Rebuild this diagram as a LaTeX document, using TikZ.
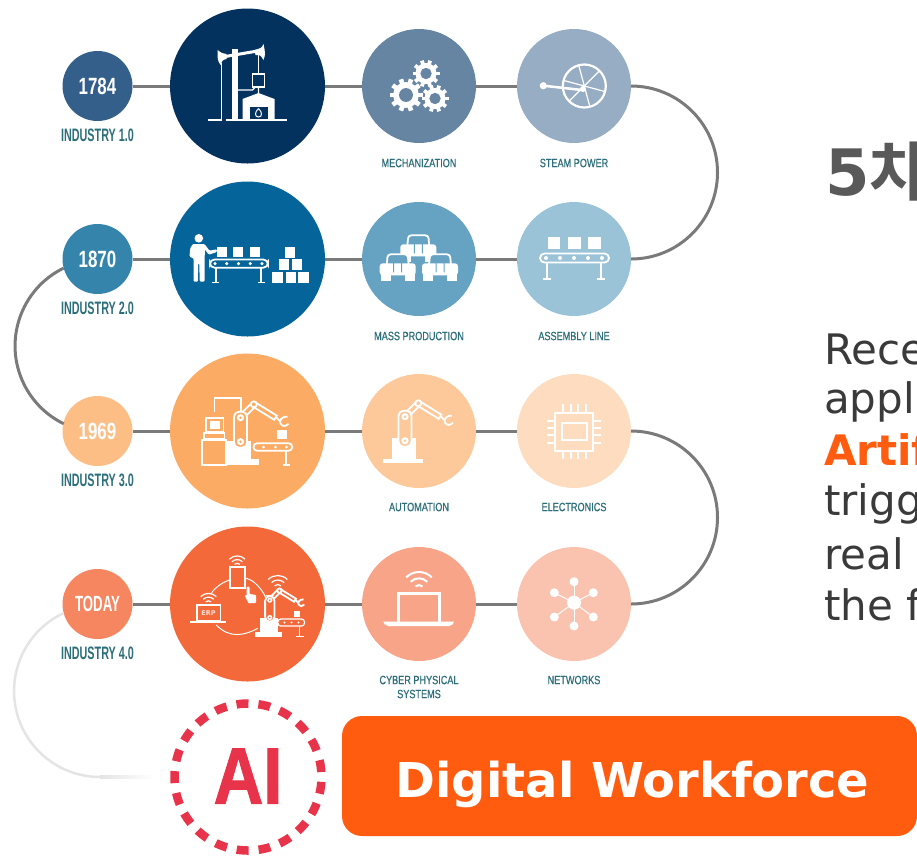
\documentclass[tikz,border=0pt]{standalone}
\usepackage{fontspec}
\setmainfont{DejaVu Sans}
\newfontfamily\koreanfont[BoldFont={Noto Sans CJK KR Bold}]{Noto Sans CJK KR}
\newfontfamily\yearfont[FakeStretch=0.72]{Liberation Sans Bold}
\newfontfamily\indfont[FakeStretch=0.6]{Liberation Sans Bold}
\newfontfamily\labelfont[FakeStretch=0.76,FakeBold=0.6]{Liberation Sans}
\newfontfamily\aifont[FakeStretch=0.86,FakeBold=1.2]{Liberation Sans Bold}

\definecolor{year1}{HTML}{335F8A}
\definecolor{era1}{HTML}{03325F}
\definecolor{mid1}{HTML}{6685A3}
\definecolor{end1}{HTML}{97ADC4}
\definecolor{year2}{HTML}{3584AC}
\definecolor{era2}{HTML}{05659A}
\definecolor{mid2}{HTML}{66A3C3}
\definecolor{end2}{HTML}{9BC3D8}
\definecolor{year3}{HTML}{FDBE85}
\definecolor{era3}{HTML}{FBAB64}
\definecolor{mid3}{HTML}{FDC99B}
\definecolor{end3}{HTML}{FDDCBF}
\definecolor{year4}{HTML}{F6865F}
\definecolor{era4}{HTML}{F4693A}
\definecolor{mid4}{HTML}{F8A489}
\definecolor{end4}{HTML}{FAC3B0}
\definecolor{linkgray}{HTML}{7A7A7A}
\definecolor{fadegray}{HTML}{E4E4E4}
\definecolor{tealtext}{HTML}{2C6E7A}
\definecolor{airred}{HTML}{E8344A}
\definecolor{boxorange}{HTML}{FF5C0F}
\definecolor{bodygray}{HTML}{3A3A3A}
\definecolor{headgray}{HTML}{595959}

\tikzset{
  yeardisc/.style={circle,fill=#1,inner sep=0pt,outer sep=0pt,minimum size=70pt,text=white,
    font=\yearfont\fontsize{23.5}{24}\selectfont},
  eradisc/.style={circle,fill=#1,inner sep=0pt,outer sep=0pt,minimum size=155pt},
  techdisc/.style={circle,fill=#1,inner sep=0pt,outer sep=0pt,minimum size=114pt},
  indtext/.style={text=tealtext,inner sep=0pt,font=\indfont\fontsize{18}{18}\selectfont},
  techtext/.style={text=tealtext,inner sep=0pt,align=center,font=\labelfont\fontsize{12}{14}\selectfont},
  bodytext/.style={anchor=base west,inner sep=0pt,text=bodygray,font=\fontsize{42}{42}\selectfont},
  link/.style={draw=linkgray,line width=3pt},
  icon/.style={draw=white,line width=1.8pt}
}

% #1 x, #2 y, #3 radius, #4 hole colour
\newcommand{\gearicon}[4]{
  \begin{scope}[shift={(#1,#2)}]
    \fill[white] (0,0) circle (#3*0.78);
    \foreach \a in {0,36,...,324}
      \fill[white,rotate=\a] (#3*0.6,-#3*0.14) rectangle (#3,#3*0.14);
    \fill[#4] (0,0) circle (#3*0.42);
  \end{scope}
}
% #1 x, #2 y, #3 background colour
\newcommand{\caricon}[3]{
  \begin{scope}[shift={(#1,#2)}]
    \draw[icon,fill=#3,rounded corners=3pt] (-11,-2) -- (-10,-13) -- (10,-13) -- (11,-2);
    \fill[white,rounded corners=3pt] (-18,-4) rectangle (18,8);
    \fill[white] (-17,7) rectangle (-7,14);
    \fill[white] (7,7) rectangle (17,14);
    \draw[#3,line width=1pt,rounded corners=2pt] (-4,5) -- (-4,-8) -- (4,-8) -- (4,5);
  \end{scope}
}
% belt with legs, #1 background colour
\newcommand{\belticon}[1]{
  \draw[icon,rounded corners=4.5pt] (-34,-5.5) rectangle (35,3.5);
  \foreach \x in {-28,-14,0,14,28}
    \fill[white] (\x,-1) circle (2);
  \draw[icon] (-27,3.5) -- (-27,20) (-31,20) -- (-23,20);
  \draw[icon] (27,3.5) -- (27,20) (23,20) -- (31,20);
}
% arm around its lower joint, #1 background colour
\newcommand{\armicon}[1]{
  \draw[icon,fill=#1] (-1.8,-25.8) -- (11.2,-38.8) -- (14.8,-35.2) -- (1.8,-22.2) -- cycle;
  \draw[icon,fill=#1] (12,-35.3) -- (33.7,-21.9) -- (36.3,-26.1) -- (14.6,-39.5) -- cycle;
  \draw[icon,fill=#1] (13.3,-37.4) circle (3);
  \draw[icon,fill=#1,rounded corners=5pt] (-6.5,-30) rectangle (6.5,6);
  \fill[white] (0,-24) circle (3.6);
  \fill[#1] (0,-24) circle (1.3);
  \fill[white] (0,0) circle (3.6);
  \fill[#1] (0,0) circle (1.3);
  \draw[icon] (36,-24) -- (40,-20);
  \draw[icon] (47,-25) .. controls (42,-26) and (38,-21) .. (40,-18) .. controls (42,-15) and (45,-15) .. (48,-18);
}
% #1 unit radius
\newcommand{\wifiicon}[1]{
  \foreach \k in {1,2,3}
    \draw[icon,line width=1.2pt] (-135:\k*#1) arc[start angle=-135,end angle=-45,radius=\k*#1];
}

\begin{document}
\begin{tikzpicture}[x=1pt,y=-1pt]
\useasboundingbox (0,0) rectangle (917,855);
\clip (0,0) rectangle (917,855);

\foreach \r/\y/\yr in {1/86/1784, 2/259/1870, 3/431/1969, 4/604/{\indfont\fontsize{22}{22}\selectfont TODAY}}
	{
	\node[yeardisc=year\r] (year\r) at (97.5,\y) {\yr};
	\node[eradisc=era\r] (era\r) at (247.5,\y) {};
	\node[techdisc=mid\r] (mid\r) at (419,\y) {};
	\node[techdisc=end\r] (end\r) at (574,\y) {};
	\draw[link] (year\r) -- (era\r) -- (mid\r) -- (end\r);
	}

\node[indtext] (ind1) at (97.5,135) {INDUSTRY 1.0};
\node[indtext] (ind2) at (97.5,308) {INDUSTRY 2.0};
\node[indtext] (ind3) at (97.5,480) {INDUSTRY 3.0};
\node[indtext] (ind4) at (97.5,653) {INDUSTRY 4.0};
\node[techtext] (midlab1) at (419,163) {MECHANIZATION};
\node[techtext] (endlab1) at (574,163) {STEAM POWER};
\node[techtext] (midlab2) at (419,336) {MASS PRODUCTION};
\node[techtext] (endlab2) at (574,336) {ASSEMBLY LINE};
\node[techtext] (midlab3) at (419,507) {AUTOMATION};
\node[techtext] (endlab3) at (574,507) {ELECTRONICS};
\node[techtext] (midlab4) at (419,687) {CYBER PHYSICAL\\SYSTEMS};
\node[techtext] (endlab4) at (574,680) {NETWORKS};

% curves between the rows
\draw[link] (end1.east) arc[start angle=-90,end angle=90,radius=86.5];
\draw[link] (end3.east) arc[start angle=-90,end angle=90,radius=86.5];
\draw[link] (year2.195) arc[start angle=-116,end angle=-244,radius=86.6];
\draw[draw=fadegray,line width=2.5pt] (year4.195) arc[start angle=-115,end angle=-270,radius=86]
	coordinate (fadestart);

\node[circle,draw=airred,line width=8.5pt,dash pattern=on 12pt off 10pt,dash phase=17pt,
	inner sep=0pt,outer sep=0pt,minimum size=147pt,text=airred,
	font=\aifont\fontsize{80}{80}\selectfont] (ai) at (248,777) {\raisebox{2pt}{AI}};
\coordinate (fadeend) at (155,777);
\shade[left color=fadegray,right color=white] ([yshift=1.25pt]fadestart) rectangle ([yshift=-1.25pt]fadeend);

\node[fill=boxorange,rounded corners=20pt,minimum width=575pt,minimum height=120pt,inner sep=0pt] (box) at (629.5,776) {};
\node[anchor=base,inner sep=0pt,text=white,font=\bfseries\fontsize{48}{48}\selectfont] (workforce) at (632.5,797) {Digital Workforce};

% right column, cut by the frame
\node[anchor=base west,inner sep=0pt,text=headgray,font=\bfseries\fontsize{64}{64}\selectfont] (head) at (825,195)
	{5{\koreanfont 차}};
\node[bodytext] (line1) at (824,364) {Rece};
\node[bodytext] (line2) at (824,413) {appl};
\node[bodytext,text=boxorange,font=\bfseries\fontsize{42}{42}\selectfont] (line3) at (824,465) {Artif};
\node[bodytext] (line4) at (824,515) {trigg};
\node[bodytext] (line5) at (824,569) {real};
\node[bodytext] (line6) at (824,620) {the f};

% pump and furnace
\begin{scope}[shift={(era1.center)}]
	\draw[white,line width=2.5pt] (-40,34) -- (-26,34) (-22,34) -- (39,34);
	\fill[white] (-16,-37) rectangle (-10,34);
	\draw[white,line width=3pt] (-25,-29) -- (10,-35);
	\fill[white] (-30,-36) .. controls (-26,-33) .. (-21,-32) -- (-21,-27) .. controls (-25,-26) .. (-27,-21) .. controls (-30,-26) .. (-30,-36);
	\fill[white] (16,-42) .. controls (14,-38) .. (7,-36) -- (8,-31) .. controls (13,-31) .. (16,-26) .. controls (18,-32) .. (16,-42);
	\draw[white,line width=1pt] (-26,-23) -- (-26,34);
	\draw[white,line width=1pt] (11,-33) -- (11,-12);
	\draw[white,line width=1.5pt] (5,-12) rectangle (17,1);
	\draw[white,line width=1.2pt] (-10,4) -- (5,4) -- (8,1) (11,1) -- (11,7);
	\fill[white] (-5,33) -- (-5,13) -- (11,7) -- (27,13) -- (27,33) -- cycle;
	\fill[era1] (2,33) -- (2,21) -- (20,21) -- (20,33) -- cycle;
	\draw[white,line width=1pt] (11,22.5) .. controls (15,26) and (15,31) .. (11,31) .. controls (7,31) and (7,26) .. (11,22.5);
\end{scope}
\gearicon{406}{95}{16.5}{mid1}
\gearicon{426}{73.5}{13.5}{mid1}
\gearicon{435}{98.5}{13.5}{mid1}
% steam wheel
\begin{scope}[shift={(end1.center)}]
	\draw[icon,line width=2.2pt] (10.3,0) circle (21.5);
	\foreach \a in {15,75,135,195,255,315}
		\draw[white,line width=1.2pt] (10.3,0) -- ++(\a:21);
	\fill[white] (-30.7,-0.3) circle (3.6);
	\draw[white,line width=2.5pt] (-30.7,-0.3) -- (8,4);
	\fill[white] (9,3) circle (3);
\end{scope}

% worker and boxes
\begin{scope}[shift={(era2.center)}]
	\fill[white] (-48.7,-20.7) circle (4.3);
	\fill[white,rounded corners=1pt] (-54.7,-15) -- (-43,-15) -- (-38,-8.3) -- (-30.7,-9.7) -- (-30.7,-7) -- (-38.7,-4.3) -- (-42.7,-9.7) -- (-43,22.7) -- (-47.7,22.7) -- (-48.3,4.3) -- (-49.3,4.3) -- (-49.7,22.7) -- (-54,22.7) -- (-54,-0.7) -- (-58,-2.3) -- (-57.3,-10.7) -- cycle;
	\foreach \x in {-31,-15,2}
		\fill[white] (\x,-12.3) rectangle ++(10.5,10);
	\begin{scope}[shift={(-9,5.5)},xscale=0.84,yscale=0.9]
		\belticon{era2}
	\end{scope}
	\foreach \x/\yy in {24.7/13.3,38/13.3,50.7/13.3,31.3/0.3,44.3/0.3,37.3/-11.7}
		\fill[white] (\x,\yy) rectangle ++(10.5,10.2);
\end{scope}
\caricon{418.3}{248.3}{mid2}
\caricon{397.7}{267.3}{mid2}
\caricon{440}{267.3}{mid2}
\begin{scope}[shift={(end2.center)}]
	\foreach \x in {-26.3,-5.7,14.3}
		\fill[white] (\x,-21.7) rectangle ++(12.3,12);
	\belticon{end2}
\end{scope}

% cell with robot
\begin{scope}[shift={(era3.center)}]
	\draw[icon] (-33,-19) -- (-33,-32.7) -- (-6.3,-32.7) -- (-6.3,-19);
	\draw[icon] (-41.3,-13.3) rectangle (-24,0.7);
	\fill[white] (-38,-10.3) rectangle (-27.5,-2);
	\draw[icon] (-43.7,2.3) rectangle (-23,8.3);
	\draw[icon] (-45.3,9) rectangle (-21.3,34);
	\fill[white] (-21.3,10) rectangle (3,34);
	\fill[white] (-21.3,28) rectangle (11.3,34);
	\begin{scope}[shift={(-7,10.7)}]
		\armicon{era3}
	\end{scope}
	\fill[white] (29.3,-1) rectangle (39.3,8.3);
	\draw[icon,rounded corners=3.5pt] (6,12.3) rectangle (44.7,19.7);
	\foreach \x in {16,28,39}
		\fill[white] (\x,16) circle (1.5);
	\draw[icon] (38.7,19.7) -- (38.7,34) (35,34) -- (42.5,34);
\end{scope}
\begin{scope}[shift={(mid3.center)}]
	\fill[white] (-27,7) rectangle (-3,30);
	\fill[white] (-35.7,27.5) rectangle (4,32);
	\begin{scope}[shift={(-14,9.7)}]
		\armicon{mid3}
	\end{scope}
\end{scope}
% chip
\begin{scope}[shift={(end3.center)}]
	\draw[icon] (-19,-18.3) rectangle (18.7,19.7);
	\draw[icon] (-12.3,-8.3) rectangle (12.7,9);
	\foreach \x in {-10.7,-3,4.3,11.7}
		\draw[icon] (\x,-26.7) -- (\x,-18.3) (\x,19.7) -- (\x,28);
	\foreach \yy in {-10.3,-2.7,4,11.7}
		\draw[icon] (-27.3,\yy) -- (-19,\yy) (18.7,\yy) -- (27,\yy);
\end{scope}

% connected factory
\begin{scope}[shift={(era4.center)}]
	\draw[white,line width=1pt] (-36.3,-10.7) .. controls (-31,-18) and (-24,-22) .. (-18,-24);
	\draw[white,line width=1pt] (-1.3,-25.7) .. controls (7,-24) and (15,-14) .. (18.7,-5.7);
	\draw[white,line width=1pt] (-31.3,21) .. controls (-24,28) and (-18,30.5) .. (-10,30.5) .. controls (-4,30.5) and (4,28) .. (10.3,24.3);
	\draw[icon,line width=2pt] (-18,-37.3) rectangle (-2.3,-16.3);
	\begin{scope}[shift={(-10.3,-37)}]
		\wifiicon{3.7}
	\end{scope}
	\fill[white,rounded corners=1pt] (-1,-17.3) -- (2,-17.3) -- (2,-10) -- (8.7,-9) -- (8.7,-1) -- (1,-0.7) -- (-3,-9) -- (-1,-8) -- cycle;
	\draw[icon,line width=1.5pt] (-50.3,1) rectangle (-27,17);
	\node[inner sep=0pt,text=white!80!era4,font=\bfseries\fontsize{6.5}{7}\selectfont] (erp) at (-39,9) {ERP};
	\fill[white] (-57.3,16.5) rectangle (-21.3,19);
	\begin{scope}[shift={(-39,0.5)}]
		\wifiicon{3.7}
	\end{scope}
	\begin{scope}[shift={(30.3,-15)}]
		\wifiicon{4.5}
	\end{scope}
	\fill[white] (12,14) rectangle (30.3,28.3);
	\fill[white] (7.7,28.3) rectangle (34.3,32.7);
	\begin{scope}[shift={(22.3,13.5)},scale=0.72]
		\armicon{era4}
	\end{scope}
	\fill[white] (46.3,7) rectangle (52,12.7);
	\draw[icon,line width=1.2pt,rounded corners=3pt] (30.3,15) rectangle (57,22);
	\foreach \x in {37,44,51}
		\fill[white] (\x,18.5) circle (1.2);
	\draw[icon,line width=1.2pt] (52,22) -- (52,32.5) (48,32.5) -- (56,32.5);
\end{scope}
% laptop
\begin{scope}[shift={(mid4.center)}]
	\draw[icon,line width=2.5pt] (-20.7,17.7) -- (-20.7,-10.7) -- (20.3,-10.7) -- (20.3,17.7);
	\fill[white] (-35.7,17.7) -- (35,17.7) .. controls (34,20) and (33,22) .. (30,22) -- (-30.7,22) .. controls (-33.7,22) and (-34.7,20) .. (-35.7,17.7) -- cycle;
	\begin{scope}[shift={(0,-14)}]
		\foreach \k in {5,11.7,18}
			\draw[icon,line width=2pt] (-135:\k) arc[start angle=-135,end angle=-45,radius=\k];
	\end{scope}
\end{scope}
% network
\begin{scope}[shift={(end4.center)}]
	\foreach \x/\yy in {0/-22.3,19.3/-11.3,19.3/13,0/22,-19.7/13,-19.7/-11.3}
		{
		\draw[white,line width=1pt] (0,-1.3) -- (\x,\yy);
		\fill[white] (\x,\yy) circle (4.5);
		}
	\fill[white] (0,-1.3) circle (7);
\end{scope}
\end{tikzpicture}
\end{document}
